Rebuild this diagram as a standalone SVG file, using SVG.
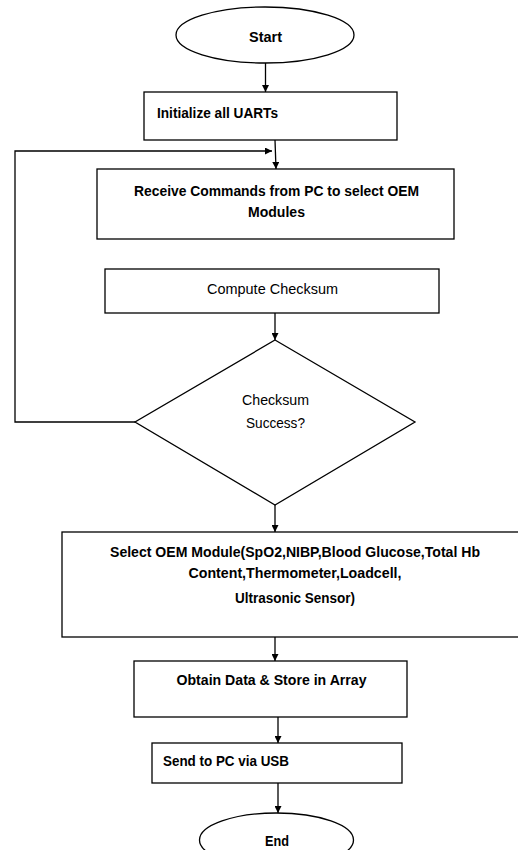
<svg xmlns="http://www.w3.org/2000/svg" width="518" height="850" viewBox="0 0 518 850">
<style>
.s{fill:#fff;stroke:#000;stroke-width:1.3}
.t{font-family:"Liberation Sans",Arial,sans-serif;font-weight:bold;font-size:14.5px;fill:#000}
.n{font-weight:normal}
.c{stroke:#000;stroke-width:1.3;fill:none;marker-end:url(#a)}
</style>
<defs>
<marker id="a" viewBox="0 0 10 10" refX="10" refY="5" markerWidth="7" markerHeight="7" markerUnits="userSpaceOnUse" orient="auto">
<path d="M0,0 L10,5 L0,10 z" fill="#000"/>
</marker>
</defs>
<rect width="518" height="850" fill="#fff"/>
<g id="connectors">
<line class="c" x1="265.5" y1="63" x2="265.5" y2="92"/>
<line class="c" x1="275" y1="140" x2="276" y2="169"/>
<polyline class="c" points="135,422 15,422 15,151 272,151"/>
<line class="c" x1="275" y1="313" x2="275" y2="340"/>
<line class="c" x1="275" y1="505" x2="275" y2="532"/>
<line class="c" x1="275" y1="637" x2="275" y2="661"/>
<line class="c" x1="278" y1="717" x2="278" y2="743"/>
<line class="c" x1="278" y1="783" x2="278" y2="813"/>
</g>
<g id="start">
<ellipse class="s" cx="265" cy="35" rx="89" ry="28"/>
<text class="t" x="265.5" y="42" text-anchor="middle" textLength="33" lengthAdjust="spacingAndGlyphs">Start</text>
</g>
<g id="init">
<rect class="s" x="144" y="92" width="253" height="48"/>
<text class="t" x="157" y="118" textLength="121" lengthAdjust="spacingAndGlyphs">Initialize all UARTs</text>
</g>
<g id="receive">
<rect class="s" x="97" y="169" width="357" height="70"/>
<text class="t" x="276.5" y="196" text-anchor="middle" textLength="285" lengthAdjust="spacingAndGlyphs">Receive Commands from PC to select OEM</text>
<text class="t" x="276.5" y="217" text-anchor="middle" textLength="57" lengthAdjust="spacingAndGlyphs">Modules</text>
</g>
<g id="compute">
<rect class="s" x="105" y="269" width="334" height="44"/>
<text class="t n" x="272.5" y="294" text-anchor="middle" textLength="131" lengthAdjust="spacingAndGlyphs">Compute Checksum</text>
</g>
<g id="decision">
<polygon class="s" points="275,340 415,422 275,505 135,422"/>
<text class="t n" x="275.5" y="405" text-anchor="middle" textLength="67" lengthAdjust="spacingAndGlyphs">Checksum</text>
<text class="t n" x="275.5" y="428" text-anchor="middle" textLength="59" lengthAdjust="spacingAndGlyphs">Success?</text>
</g>
<g id="select">
<rect class="s" x="62" y="532" width="470" height="105"/>
<text class="t" x="295" y="557" text-anchor="middle" textLength="370" lengthAdjust="spacingAndGlyphs">Select OEM Module(SpO2,NIBP,Blood Glucose,Total Hb</text>
<text class="t" x="295" y="578" text-anchor="middle" textLength="213" lengthAdjust="spacingAndGlyphs">Content,Thermometer,Loadcell,</text>
<text class="t" x="295" y="603" text-anchor="middle" textLength="120" lengthAdjust="spacingAndGlyphs">Ultrasonic Sensor)</text>
</g>
<g id="obtain">
<rect class="s" x="134" y="661" width="273" height="56"/>
<text class="t" x="271.5" y="685" text-anchor="middle" textLength="190" lengthAdjust="spacingAndGlyphs">Obtain Data &amp; Store in Array</text>
</g>
<g id="send">
<rect class="s" x="152" y="743" width="250" height="40"/>
<text class="t" x="163" y="766" textLength="126" lengthAdjust="spacingAndGlyphs">Send to PC via USB</text>
</g>
<g id="end">
<ellipse class="s" cx="276.5" cy="840" rx="77" ry="27"/>
<text class="t" x="277" y="846" text-anchor="middle" textLength="24" lengthAdjust="spacingAndGlyphs">End</text>
</g>
</svg>
